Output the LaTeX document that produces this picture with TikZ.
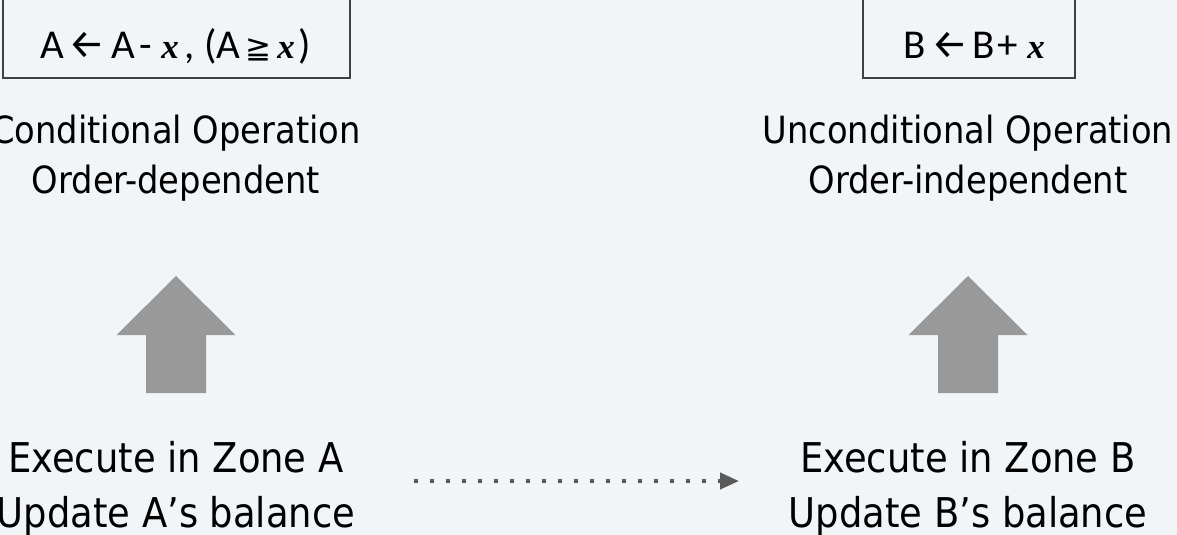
\documentclass[tikz,border=0pt]{standalone}
\usepackage{fontspec}
\setmainfont{Carlito}
\newfontfamily\labelfont{DejaVu Sans Condensed}
\newfontfamily\arrowfont{Fira Sans}
\newfontfamily\relfont{DejaVu Sans}
\newfontfamily\varfont{Liberation Serif}
\usetikzlibrary{arrows.meta}
\definecolor{bg}{HTML}{F2F5F8}
\definecolor{frame}{HTML}{404040}
\definecolor{arrowgray}{HTML}{999999}
\definecolor{dotgray}{HTML}{595959}
\begin{document}
\begin{tikzpicture}[x=1pt,y=-1pt,
  opbox/.style={draw=frame, line width=1.3pt, minimum height=100pt, inner sep=0pt},
  tok/.style={font=\fontsize{41}{44}\selectfont, inner sep=0pt, anchor=base},
  assign/.style={font=\arrowfont\fontsize{41}{44}\selectfont, inner sep=0pt, anchor=base},
  rel/.style={font=\relfont\fontsize{31}{34}\selectfont, inner sep=0pt, anchor=base},
  var/.style={font=\varfont\bfseries\itshape\fontsize{35}{38}\selectfont, inner sep=0pt, anchor=base},
  caption/.style={font=\labelfont\fontsize{37.5}{40}\selectfont, inner sep=0pt, anchor=base},
  zone/.style={font=\labelfont\fontsize{41}{45}\selectfont, inner sep=0pt, anchor=base},
  uparrow/.style={fill=arrowgray},
  flow/.style={draw=dotgray, line width=4pt, dash pattern=on 4pt off 12pt,
    -{Triangle[length=19pt,width=16pt]}}]
\useasboundingbox (0,0) rectangle (1177,535);
\fill[bg] (0,0) rectangle (1177,535);

% operation boxes
\node[opbox, minimum width=347pt] (boxA) at (176.5,28) {};
\node[opbox, minimum width=212pt] (boxB) at (969,28) {};

% A <- A - x , (A >= x)
\node[tok]    (a1)   at (52,59)    {A};
\node[assign] (aarr) at (86.5,59)  {←};
\node[tok]    (a2)   at (123,59)   {A};
\node[tok]    (amin) at (145.5,59) {-};
\node[var]    (ax1)  at (170,59)   {x};
\node[tok]    (acom) at (190,59)   {,};
\node[tok]    (alp)  at (210.5,59) {(};
\node[tok]    (a3)   at (228,59)   {A};
\node[rel]    (ageq) at (258.5,59) {≧};
\node[var]    (ax2)  at (286,59)   {x};
\node[tok]    (arp)  at (305,59)   {)};

% B <- B + x
\node[tok]    (b1)   at (915,59)    {B};
\node[assign] (barr) at (949.5,59)  {←};
\node[tok]    (b2)   at (984,59)    {B};
\node[tok]    (bplu) at (1008,59)   {+};
\node[var]    (bx)   at (1036,59)   {x};

% captions
\node[caption] (condA1) at (176,143) {Conditional Operation};
\node[caption] (condA2) at (176,193) {Order-dependent};
\node[caption] (condB1) at (968,143) {Unconditional Operation};
\node[caption] (condB2) at (968,193) {Order-independent};

% block arrows
\fill[uparrow] (176,276) -- (235.5,335) -- (206,335) -- (206,393) -- (146,393) -- (146,335) -- (116.5,335) -- cycle;
\fill[uparrow] (968,276) -- (1027.5,335) -- (998,335) -- (998,393) -- (938,393) -- (938,335) -- (908.5,335) -- cycle;

% zones
\node[zone] (exeA1) at (176,472) {Execute in Zone A};
\node[zone] (exeA2) at (176,527) {Update A’s balance};
\node[zone] (exeB1) at (968,472) {Execute in Zone B};
\node[zone] (exeB2) at (968,527) {Update B’s balance};

% propagation
\coordinate (flowS) at (414,481);
\coordinate (flowE) at (739,481);
\draw[flow] (flowS) -- (flowE);
\end{tikzpicture}
\end{document}
